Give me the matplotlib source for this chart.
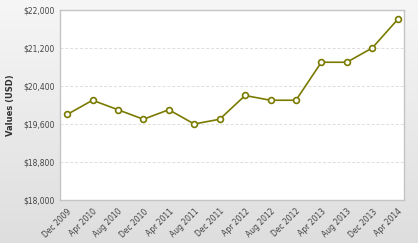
import numpy as np
import matplotlib
matplotlib.use("Agg")
import matplotlib.pyplot as plt
from matplotlib.ticker import FuncFormatter

months = ["Dec 2009", "Apr 2010", "Aug 2010", "Dec 2010", "Apr 2011", "Aug 2011",
          "Dec 2011", "Apr 2012", "Aug 2012", "Dec 2012", "Apr 2013", "Aug 2013",
          "Dec 2013", "Apr 2014"]
values = [19800, 20100, 19900, 19700, 19900, 19600, 19700, 20200, 20100, 20100,
          20900, 20900, 21200, 21800]
y_ticks = [18000, 18800, 19600, 20400, 21200, 22000]

fig = plt.figure(figsize=(4.18, 2.43), dpi=100)

# gray gradient background
bg = fig.add_axes([0, 0, 1, 1], zorder=-10)
grad = np.linspace(0, 1, 256).reshape(-1, 1)
bg.imshow(grad, aspect="auto", cmap=plt.cm.colors.LinearSegmentedColormap.from_list(
    "bg", ["#f6f6f6", "#dedede"]), extent=[0, 1, 0, 1], origin="upper")
bg.axis("off")

ax = fig.add_axes([60 / 418, 43 / 243, 344 / 418, 190 / 243])
ax.set_facecolor("white")
x = np.arange(len(months))
ax.plot(x, values, color="#7a7a00", lw=1.2, marker="o", ms=4.2,
        mfc="white", mec="#7a7a00", mew=1.2, zorder=3, clip_on=False)

ax.set_xlim(-0.28, len(months) - 1 + 0.25)
ax.set_ylim(18000, 22000)
ax.set_yticks(y_ticks)
ax.yaxis.set_major_formatter(FuncFormatter(lambda v, p: "${:,.0f}".format(v)))
ax.set_xticks(x)
ax.set_xticklabels(months, rotation=45, ha="right", rotation_mode="anchor")
ax.tick_params(length=0, labelsize=5.5, labelcolor="#444444", pad=4)
ax.tick_params(axis="x", pad=5)
ax.grid(axis="y", color="#dddddd", ls=(0, (3, 2)), lw=0.7)
for s in ax.spines.values():
    s.set_color("#c4c4c4")
    s.set_linewidth(1.0)
ax.set_ylabel("Values (USD)", fontsize=6, fontweight="bold", color="#333333", labelpad=6)

fig.savefig("out.png", dpi=100)
